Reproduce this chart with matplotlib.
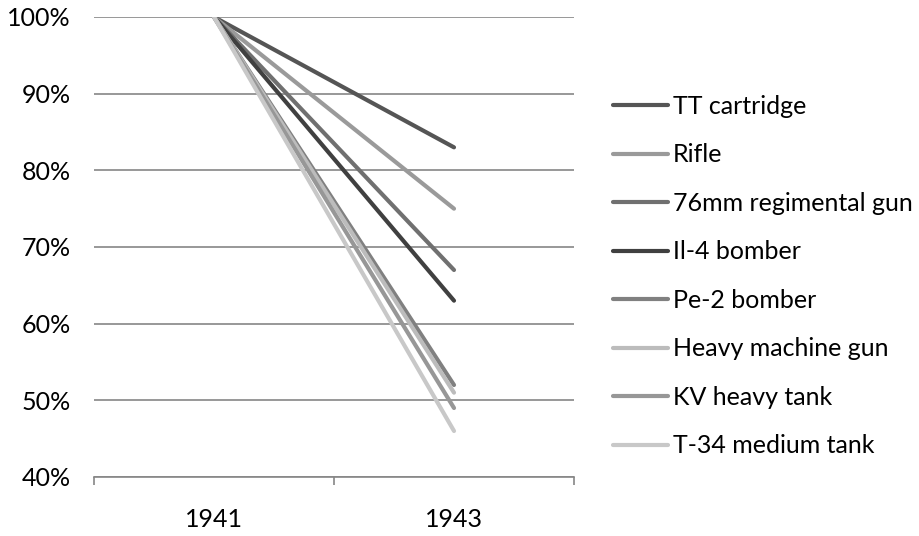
import numpy as np
import matplotlib.pyplot as plt
from matplotlib.ticker import FixedLocator

years = ['1941', '1943']
series_names = ['TT cartridge', 'Rifle', '76mm regimental gun', 'Il-4 bomber',
                'Pe-2 bomber', 'Heavy machine gun', 'KV heavy tank', 'T-34 medium tank']
values_1941 = [100, 100, 100, 100, 100, 100, 100, 100]
values_1943 = [83, 75, 67, 63, 52, 51, 49, 46]
colors = ['#555555', '#9a9a9a', '#707070', '#404040',
          '#808080', '#bcbcbc', '#979797', '#c8c8c8']

plt.rcParams['font.family'] = ['Lato', 'DejaVu Sans']

fig = plt.figure(figsize=(9.2, 5.36), dpi=100)
ax = fig.add_axes([94 / 920, 1 - 477 / 536, 480 / 920, 460 / 536])

x = np.arange(len(years))
for name, v0, v1, c in zip(series_names, values_1941, values_1943, colors):
    ax.plot(x, [v0, v1], color=c, lw=3.0, label=name, solid_capstyle='round')

ax.set_xlim(-0.5, 1.5)
ax.set_ylim(40, 100)
ax.set_yticks(np.arange(40, 101, 10))
ax.set_yticklabels([f'{v}%' for v in range(40, 101, 10)], fontsize=18)
ax.set_xticks(x)
ax.set_xticklabels(years, fontsize=18)
ax.xaxis.set_minor_locator(FixedLocator([-0.5, 0.5, 1.5]))
ax.tick_params(axis='x', which='major', length=0, pad=22)
ax.tick_params(axis='x', which='minor', length=6, width=1.2, color='#868686')
ax.tick_params(axis='y', length=0, pad=17)
ax.grid(axis='y', color='#868686', lw=1.2)
ax.set_axisbelow(True)
for s in ['top', 'right', 'left']:
    ax.spines[s].set_visible(False)
ax.spines['bottom'].set_color('#868686')
ax.spines['bottom'].set_linewidth(1.2)

ax.legend(loc='center left', bbox_to_anchor=(613 / 920, 1 - 276 / 536),
          bbox_transform=fig.transFigure, frameon=False, fontsize=18,
          borderpad=0, borderaxespad=0, handlelength=2.2, handletextpad=0.2,
          labelspacing=1.02)

fig.savefig('out.png', dpi=100)
